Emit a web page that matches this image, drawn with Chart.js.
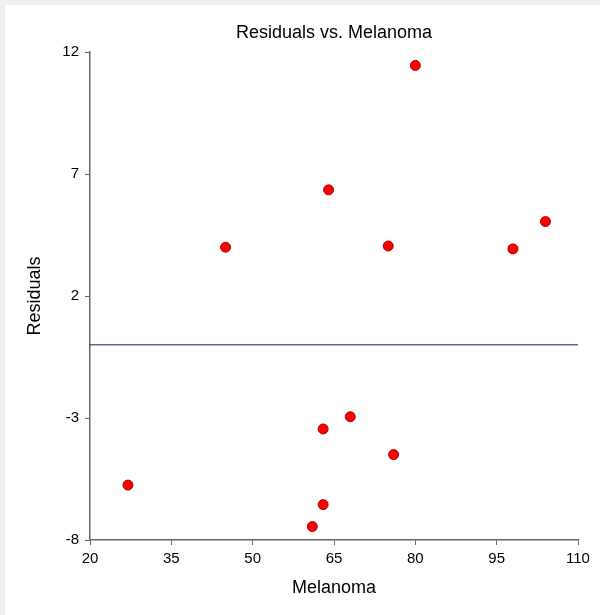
<!DOCTYPE html>
<html>
<head>
<meta charset="utf-8">
<script src="https://cdn.jsdelivr.net/npm/chart.js@4"></script>
<style>
  html, body { margin: 0; padding: 0; background: #f0f0f0; }
  #wrap { position: absolute; left: 5px; top: 5px; width: 595px; height: 610px; background: #fff; }
</style>
</head>
<body>
<div id="wrap"><canvas id="chart" width="595" height="610"></canvas></div>
<script>
// data
const melanoma  = [27, 45, 64, 75, 80, 98, 104, 68, 63, 76, 63, 61];
const residuals = [-5.75, 4.0, 6.35, 4.05, 11.45, 3.93, 5.05, -2.95, -3.45, -4.5, -6.55, -7.45];
const zeroLineX = [20, 110];
const zeroLineY = [0, 0];

const xRange = { min: 20, max: 110, step: 15 };
const yRange = { min: -8, max: 12, step: 5 };

const axisColor = '#666';
const font = 'Liberation Sans, Arial, sans-serif';

// title centred over the plot area, not the canvas
const titlePlugin = {
  id: 'plotTitle',
  afterDraw(chart) {
    const { ctx, chartArea } = chart;
    ctx.save();
    ctx.font = '18px ' + font;
    ctx.fillStyle = '#000';
    ctx.textAlign = 'center';
    ctx.textBaseline = 'middle';
    ctx.fillText('Residuals vs. Melanoma', (chartArea.left + chartArea.right) / 2, 28);
    ctx.restore();
  }
};

new Chart(document.getElementById('chart'), {
  type: 'scatter',
  data: {
    datasets: [
      {
        type: 'line',
        data: zeroLineX.map((x, i) => ({ x, y: zeroLineY[i] })),
        borderColor: '#1c1c6e',
        borderWidth: 1,
        pointRadius: 0,
        fill: false
      },
      {
        data: melanoma.map((x, i) => ({ x, y: residuals[i] })),
        backgroundColor: '#ff0000',
        borderColor: '#b00000',
        borderWidth: 1,
        pointRadius: 5
      }
    ]
  },
  options: {
    responsive: false,
    animation: false,
    layout: { padding: { left: 0, right: 22, top: 47, bottom: 0 } },
    plugins: { legend: { display: false }, tooltip: { enabled: false } },
    scales: {
      x: {
        type: 'linear',
        min: xRange.min, max: xRange.max,
        ticks: { stepSize: xRange.step, color: '#000', font: { family: font, size: 15 }, padding: 5, maxRotation: 0 },
        grid: { drawOnChartArea: false, color: axisColor, tickLength: 5 },
        border: { color: axisColor, width: 1.5 },
        title: { display: true, text: 'Melanoma', color: '#000', font: { family: font, size: 18 }, padding: { top: 8, bottom: 16 } },
        afterFit(scale) { scale.height = 75; }
      },
      y: {
        type: 'linear',
        min: yRange.min, max: yRange.max,
        ticks: { stepSize: yRange.step, color: '#000', font: { family: font, size: 15 }, padding: 6 },
        grid: { drawOnChartArea: false, color: axisColor, tickLength: 5 },
        border: { color: axisColor, width: 1.5 },
        title: { display: true, text: 'Residuals', color: '#000', font: { family: font, size: 18 }, padding: { top: 19, bottom: 0 } },
        afterFit(scale) { scale.width = 85; }
      }
    }
  },
  plugins: [titlePlugin]
});
</script>
</body>
</html>
